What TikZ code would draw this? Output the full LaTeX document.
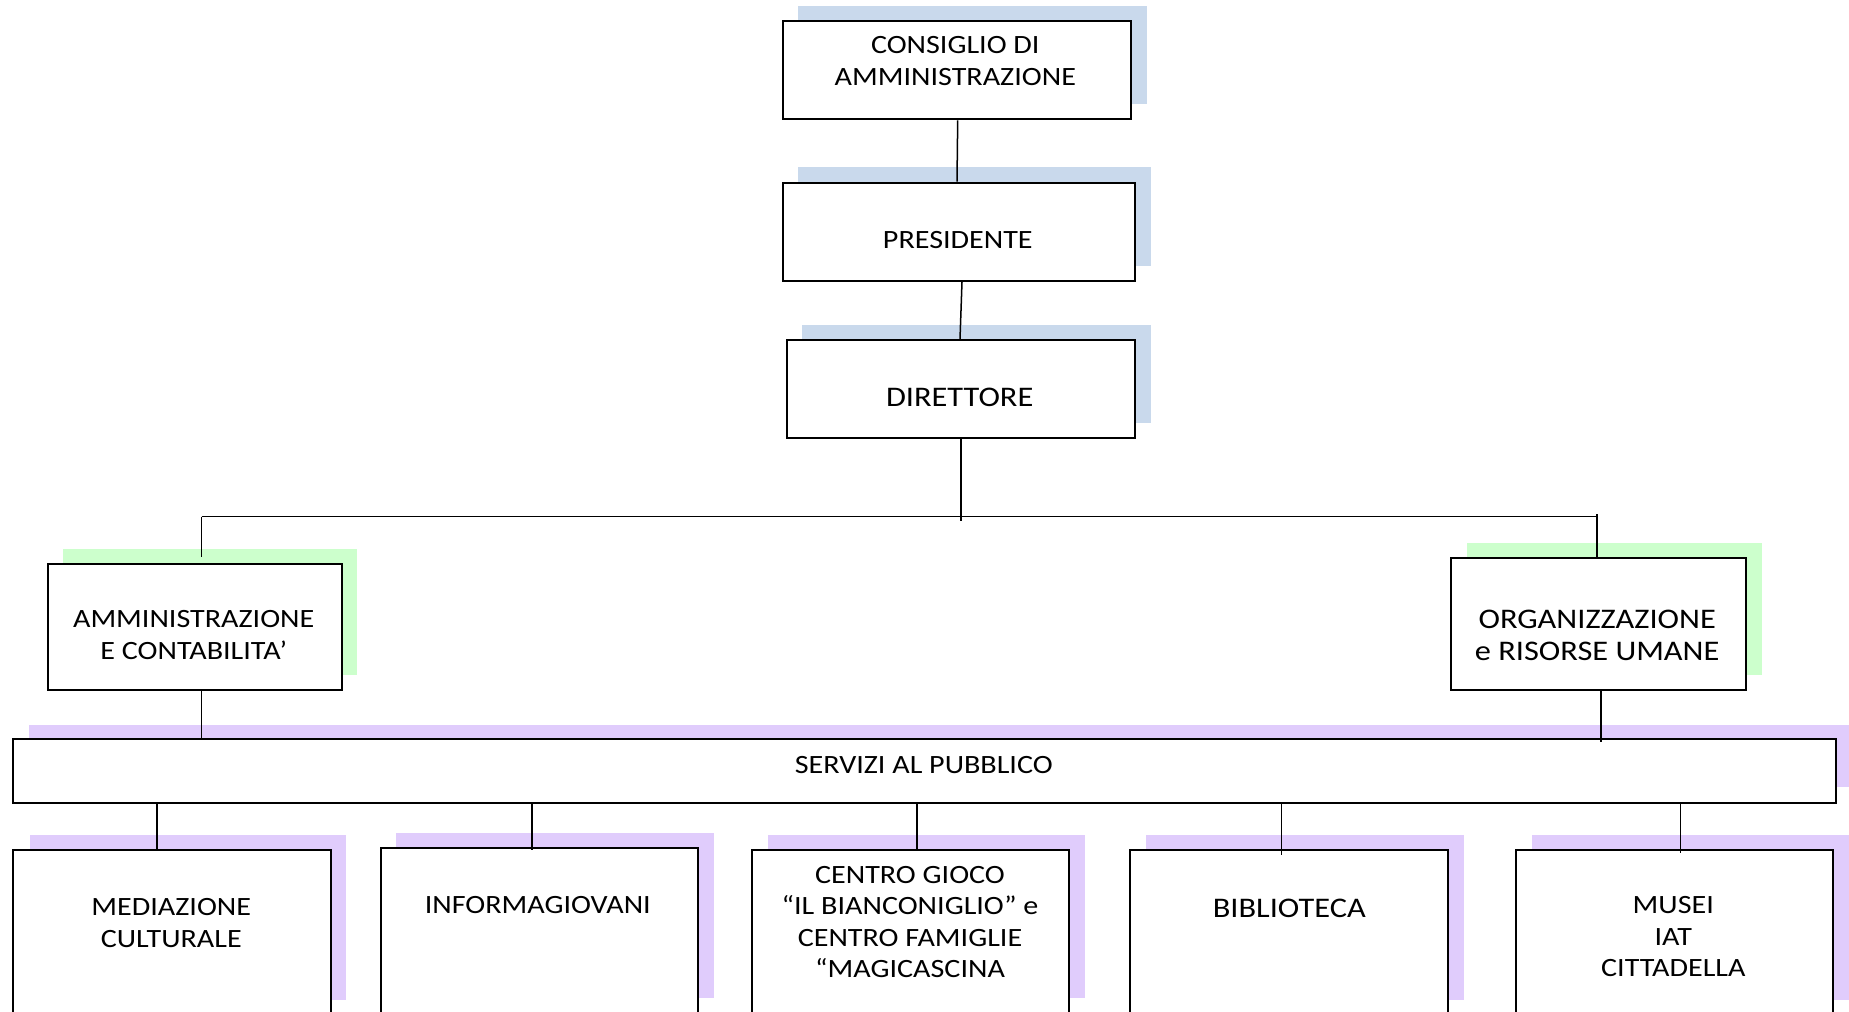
\documentclass[tikz,border=0pt]{standalone}
\usepackage{fontspec}
\setmainfont{Carlito}[FakeStretch=1.14]
\usetikzlibrary{calc}
\definecolor{shblue}{RGB}{201,217,236}
\definecolor{shgreen}{RGB}{204,255,204}
\definecolor{shpurple}{RGB}{224,204,252}
\tikzset{
  box/.style={draw=black, line width=1pt, fill=white, inner sep=0pt, anchor=north west},
  txt/.style={inner sep=0pt, align=center, anchor=base, font=\fontsize{13.2}{15.75}\selectfont},
  txtb/.style={txt, font=\fontsize{14.2}{16.2}\selectfont},
  conn/.style={line width=0.75pt},
  connb/.style={line width=0.55pt}
}
\newcommand{\boxat}[5]{% name, l, t, r, b
  \node[box, minimum width={(#4-#2)*0.5pt}, minimum height={(#5-#3)*0.5pt}] (#1) at (#2,#3) {};}
\begin{document}
\begin{tikzpicture}[x=0.5pt, y=-0.5pt]
\useasboundingbox (0,0) rectangle (1849,1012);
% shadows
\fill[shblue] (798,6) rectangle (1146.7,104);
\fill[shblue] (798,167) rectangle (1150.7,265.7);
\fill[shblue] (802,325) rectangle (1150.7,423);
\fill[shgreen] (63.3,549) rectangle (357,674.7);
\fill[shgreen] (1467,543) rectangle (1762,674.7);
\fill[shpurple] (29,725) rectangle (1860,787.3);
\fill[shpurple] (29.7,835) rectangle (346.4,1000);
\fill[shpurple] (396,832.7) rectangle (714,997.7);
\fill[shpurple] (768,835) rectangle (1084.7,998.3);
\fill[shpurple] (1146.3,835) rectangle (1464.3,1000);
\fill[shpurple] (1531.7,835) rectangle (1860,1000);
% boxes
\boxat{consiglio}{781.7}{20}{1130}{118.3}
\boxat{presidente}{781.7}{181.7}{1134}{280}
\boxat{direttore}{785.7}{339}{1134.3}{437.3}
\boxat{amm}{46.7}{563}{341}{689}
\boxat{org}{1450.3}{557}{1745}{689}
\boxat{servizi}{12.3}{738.3}{1835.3}{801.7}
\boxat{med}{12}{849}{330}{1040}
\boxat{info}{380.4}{846.7}{697}{1040}
\boxat{cg}{751.3}{849}{1067.8}{1040}
\boxat{bib}{1129.4}{849}{1447.4}{1040}
\boxat{mus}{1514.8}{849}{1832}{1040}
% texts (anchor = baseline of the last line)
\node[txt] (consiglio-t) at (955.3,85) {CONSIGLIO DI\\AMMINISTRAZIONE};
\node[txt] (presidente-t) at (957.8,248.3) {PRESIDENTE};
\node[txtb] (direttore-t) at (959.7,406.7) {DIRETTORE};
\node[txt] (amm-t) at (193.7,659.3) {AMMINISTRAZIONE\\E CONTABILITA’};
\node[txtb] (org-t) at (1597.2,660.7) {ORGANIZZAZIONE\\e RISORSE UMANE};
\node[txt] (servizi-t) at (923.8,773.3) {SERVIZI AL PUBBLICO};
\node[txt] (med-t) at (171.3,947.3) {MEDIAZIONE\\CULTURALE};
\node[txt] (info-t) at (537.8,913.3) {INFORMAGIOVANI};
\node[txt] (cg-t) at (910,977.7) {CENTRO GIOCO\\“IL BIANCONIGLIO” e\\CENTRO FAMIGLIE\\“MAGICASCINA};
\node[txtb] (bib-t) at (1289.3,917.3) {BIBLIOTECA};
\node[txt] (mus-t) at (1673.3,976.7) {MUSEI\\IAT\\CITTADELLA};
% connectors
\coordinate (hubL) at (201.5,516.5);
\coordinate (hubR) at (1597,514);
\draw[conn] (consiglio.south -| 957.7,0) -- (presidente.north -| 957,0);
\draw[conn] (presidente.south -| 962,0) -- (direttore.north -| 960,0);
\draw[conn] (direttore.south -| 961,0) -- (961,521);
\draw[conn] (hubL) -- (hubR |- hubL);
\draw[conn] (hubL) -- (201.5,557.3);
\draw[conn] (hubR) -- (org.north -| hubR);
\draw[conn] (amm.south -| 201.3,0) -- (servizi.north -| 201.3,0);
\draw[conn] (org.south -| 1601,0) -- (1601,741.7);
\draw[connb] (servizi.south -| 157,0) -- (med.north -| 157,0);
\draw[connb] (servizi.south -| 532,0) -- (532,849.7);
\draw[connb] (servizi.south -| 917,0) -- (cg.north -| 917,0);
\draw[connb] (servizi.south -| 1281.8,0) -- (1281.8,854.7);
\draw[connb] (servizi.south -| 1680.4,0) -- (1680.4,852.7);
\end{tikzpicture}
\end{document}
